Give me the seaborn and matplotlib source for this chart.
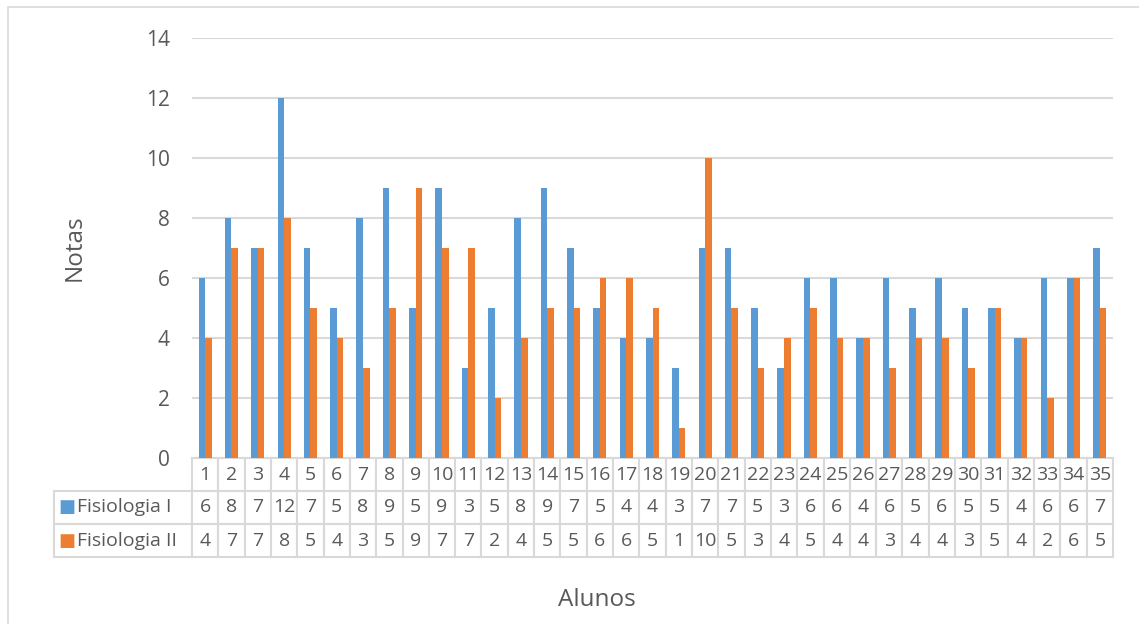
import pandas as pd
import matplotlib.pyplot as plt
import seaborn as sns
from matplotlib.patches import Rectangle

alunos = [str(i) for i in range(1, 36)]
fisio_1 = [6, 8, 7, 12, 7, 5, 8, 9, 5, 9, 3, 5, 8, 9, 7, 5, 4, 4, 3, 7,
           7, 5, 3, 6, 6, 4, 6, 5, 6, 5, 5, 4, 6, 6, 7]
fisio_2 = [4, 7, 7, 8, 5, 4, 3, 5, 9, 7, 7, 2, 4, 5, 5, 6, 6, 5, 1, 10,
           5, 3, 4, 5, 4, 4, 3, 4, 4, 3, 5, 4, 2, 6, 5]
series = ["Fisiologia I", "Fisiologia II"]
cores = ["#5b9bd5", "#ed7d31"]

df = pd.DataFrame({
    "aluno": alunos * 2,
    "nota": fisio_1 + fisio_2,
    "serie": [series[0]] * 35 + [series[1]] * 35,
})

sns.set_style("white")
plt.rcParams["font.family"] = ["Open Sans", "DejaVu Sans"]
cinza = "#595959"
linha = "#d9d9d9"

W, H = 1139, 624
fig = plt.figure(figsize=(W / 100, H / 100), dpi=100)
x0, x1, y0, y1 = 192, 1113, 38, 458
ax = fig.add_axes([x0 / W, 1 - y1 / H, (x1 - x0) / W, (y1 - y0) / H])

sns.barplot(data=df, x="aluno", y="nota", hue="serie", order=alunos,
            palette=cores, width=0.5, gap=0, legend=False, saturation=1,
            linewidth=0, ax=ax)

ax.set_ylim(0, 14)
ax.set_yticks(range(0, 15, 2))
ax.set_axisbelow(True)
ax.yaxis.grid(True, color=linha, linewidth=1.5)
ax.xaxis.grid(False)
for s in ax.spines.values():
    s.set_visible(False)
ax.tick_params(axis="y", length=0, pad=16, labelsize=15, labelcolor=cinza)
ax.set_xticks([])
ax.set_xlabel("Alunos", fontsize=17.5, color=cinza, va="center")
ax.xaxis.set_label_coords((597 - x0) / (x1 - x0), -(600 - y1) / (y1 - y0))
ax.set_ylabel("Notas", fontsize=17.5, color=cinza, va="center")
ax.yaxis.set_label_coords(-(x0 - 75) / (x1 - x0), 0.5)

# tabela de dados abaixo do gráfico
lab_w = 138 / (x1 - x0)
tab_h = 99 / (y1 - y0)
cell_text = [[""] + alunos,
             [series[0]] + [str(v) for v in fisio_1],
             [series[1]] + [str(v) for v in fisio_2]]
tab = ax.table(cellText=cell_text, cellLoc="center",
               colWidths=[lab_w] + [1 / 35] * 35,
               bbox=[-lab_w, -tab_h, 1 + lab_w, tab_h])
tab.auto_set_font_size(False)
tab.set_fontsize(14)
for (r, c), cell in tab.get_celld().items():
    cell.set_edgecolor(linha)
    cell.set_linewidth(1.5)
    cell.get_text().set_color(cinza)
    if c == 0:
        cell.PAD = 0.17
        cell.get_text().set_ha("left")
tab[0, 0].visible_edges = ""

for i, cor in enumerate(cores):
    yc = -tab_h + tab_h * (1.5 - i) / 3
    ax.text(-(x0 - 67) / (x1 - x0), yc, "■", color=cor, fontsize=13,
            ha="center", va="center", family="DejaVu Sans",
            transform=ax.transAxes)

# moldura externa
fig.add_artist(Rectangle((8 / W, -0.1), 2, 1 - 7 / H + 0.1,
                         transform=fig.transFigure, fill=False,
                         edgecolor=linha, linewidth=1.2))

fig.savefig("out.png", dpi=100, facecolor="white")
